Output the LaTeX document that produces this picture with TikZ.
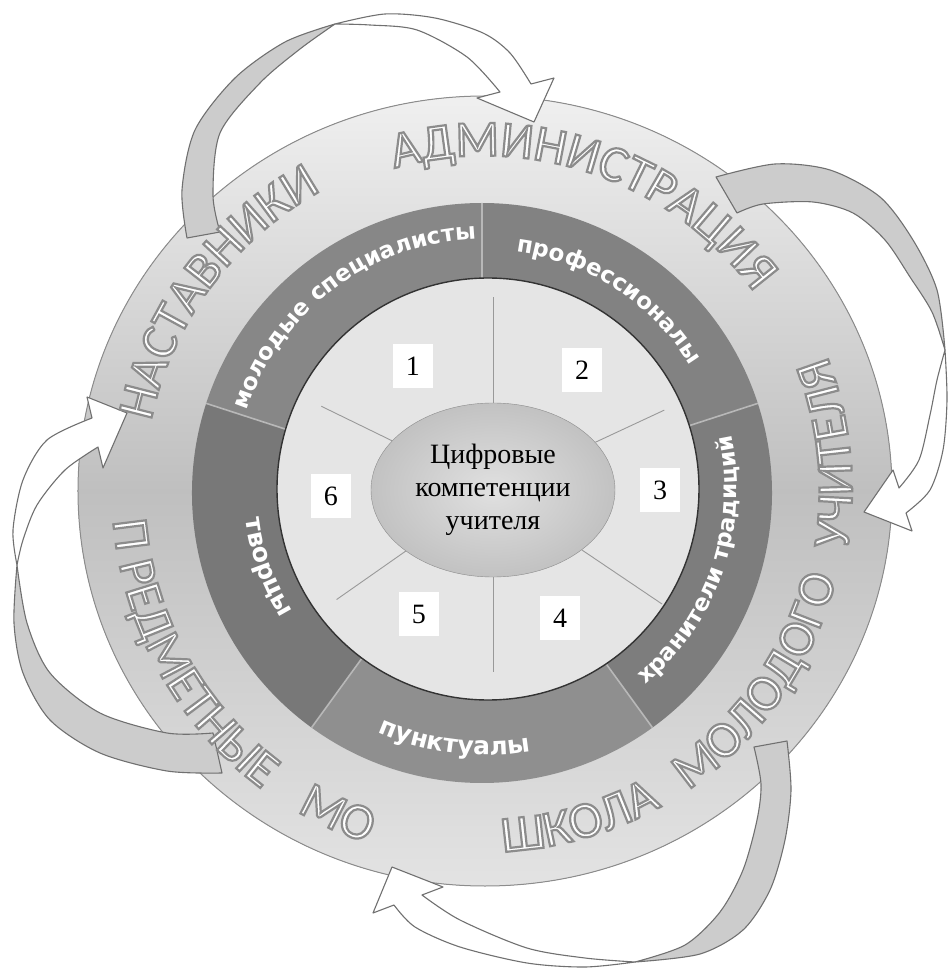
\documentclass[tikz,border=0pt]{standalone}
\usepackage{fontspec}
\setmainfont{Liberation Serif}
\newfontfamily\ringfont{Carlito}
\newfontfamily\bandfont{DejaVu Sans Bold}
\usetikzlibrary{decorations.text,shapes.geometric}
\definecolor{arrowedge}{HTML}{707070}
\tikzset{
  backside/.style={fill=black!20, draw=arrowedge, line width=1.1, line join=round},
  frontside/.style={fill=white, draw=arrowedge, line width=1.1, line join=round},
  numbox/.style={fill=white, minimum width=40, minimum height=44, inner sep=0, font=\fontsize{28}{28}\selectfont},
  spoke/.style={draw=black!40, line width=0.9},
  seam/.style={draw=black!28, line width=1.6}
}
\newcommand{\ringword}[4]{%
  \path[decorate, decoration={text along path, text align=center,
    text={|\ringfont\fontsize{51}{51}\selectfont\color{white}\special{pdf:literal direct 0.55 G 2 Tr 2.2 w}|#4}}]
    (#2:#1) arc[start angle=#2, end angle=#3, radius=#1];
}
\newcommand{\bandword}[5]{%
  \path[decorate, decoration={text along path, text align=center, text color=white,
    text={|\bandfont\fontsize{#4}{#4}\selectfont|#5}}] (#2:#1) arc[start angle=#2, end angle=#3, radius=#1];
}
\begin{document}
\begin{tikzpicture}[x=1pt, y=1pt]
\useasboundingbox (-485,-479) rectangle (463,490);

\filldraw[draw=black!45, line width=1, top color=black!6, bottom color=black!11, middle color=black!25] (0,-1) ellipse[x radius=407, y radius=395];
\foreach \a/\tone in {90/47,18/49,-54/51,234/44,162/53}
  \fill[black!\tone] (-3,-3) -- ++(\a:290) arc[start angle=\a, delta angle=72, radius=290] -- cycle;
\foreach \a in {90,162,234,306,18}
  \draw[seam] (-3,-3) ++(\a:205) -- ++(\a:85);
\filldraw[fill=black!10, draw=black!80, line width=1.4] (3,1) circle[radius=211];

\node[ellipse, draw=black!45, inner color=black!12, outer color=black!24, minimum width=244, minimum height=174,
  inner sep=0, align=center, font=\fontsize{28}{33}\selectfont] (core) at (8,0) {Цифровые\\компетенции\\учителя};
\foreach \a/\len in {90/193,25/189,326/204,270/182,215/191,154/191}
  \draw[spoke] (core.\a) -- ([shift={(\a:\len)}]core.center);

\node[numbox] (n1) at (-72,124) {1};
\node[numbox] (n2) at (97,120) {2};
\node[numbox] (n3) at (175,0) {3};
\node[numbox] (n4) at (75,-128) {4};
\node[numbox] (n5) at (-66,-124) {5};
\node[numbox] (n6) at (-154,-6) {6};

\bandword{251}{166.8}{86.8}{23}{молодые специалисты}
\bandword{240}{96.9}{16.9}{23}{профессионалы}
\bandword{252}{-59}{21}{23}{хранители традиций}
\bandword{265}{233}{293}{25}{пунктуалы}
\bandword{241}{169.5}{229.5}{25}{творцы}

\filldraw[backside] plot[smooth] coordinates {(-298,252) (-303,300) (-290,360) (-250,412) (-200,448) (-150,466)}
  -- plot[smooth] coordinates {(-150,466) (-185,441) (-225,407) (-265,357) (-272,295) (-265,258)} -- cycle;
\filldraw[frontside] plot[smooth] coordinates {(-150,466) (-100,476) (-50,472) (-2,457) (25,437) (46,406)}
  -- (69,412) -- (49,368) -- (-8,392) -- plot[smooth] coordinates {(15,398) (-18,433) (-68,460) (-115,465) (-150,466)} -- cycle;

\filldraw[backside] plot[smooth] coordinates {(231,313) (290,326) (345,320) (395,293) (428,250) (452,200) (460,140)}
  -- plot[smooth] coordinates {(460,140) (447,178) (425,213) (400,250) (368,277) (328,288) (278,286) (252,277)} -- cycle;
\filldraw[frontside] plot[smooth] coordinates {(460,140) (462,90) (458,40) (445,0) (421,-23)}
  -- (427,-41) -- (379,-22) -- (408,20) -- plot[smooth] coordinates {(414,2) (434,30) (445,75) (452,110) (460,140)} -- cycle;

\filldraw[backside] plot[smooth] coordinates {(269,-257) (276,-294) (272,-330) (258,-380) (235,-422) (200,-455) (150,-472)}
  -- plot[smooth] coordinates {(150,-472) (215,-464) (258,-440) (285,-400) (300,-350) (306,-300) (302,-251)} -- cycle;
\filldraw[frontside] plot[smooth] coordinates {(150,-472) (100,-477) (42,-473) (-25,-457) (-70,-437) (-91,-415)}
  -- (-112,-423) -- (-93,-377) -- (-42,-397) -- plot[smooth] coordinates {(-63,-405) (-25,-430) (42,-458) (100,-468) (150,-472)} -- cycle;

\filldraw[backside] plot[smooth] coordinates {(-272,-243) (-318,-243) (-385,-223) (-435,-183) (-458,-133) (-468,-75)}
  -- plot[smooth] coordinates {(-468,-75) (-471,-133) (-462,-183) (-435,-230) (-385,-263) (-318,-281) (-263,-283)} -- cycle;
\filldraw[frontside] plot[smooth] coordinates {(-468,-75) (-472,-40) (-462,10) (-438,50) (-393,72)}
  -- (-398,93) -- (-358,77) -- (-382,22) -- plot[smooth] coordinates {(-387,43) (-420,20) (-448,-15) (-462,-50) (-468,-75)} -- cycle;

\ringword{341}{183.5}{103.5}{НАСТАВНИКИ}
\ringword{334}{116}{26}{АДМИНИСТРАЦИЯ}
\ringword{373}{169}{249}{П РЕДМЕТНЫЕ}
\ringword{372}{225.6}{265.6}{МО}
\ringword{362}{256}{316}{ШКОЛА}
\ringword{362}{290}{360}{МОЛОДОГО}
\ringword{367}{336}{396}{УЧИТЕЛЯ}
\end{tikzpicture}
\end{document}
